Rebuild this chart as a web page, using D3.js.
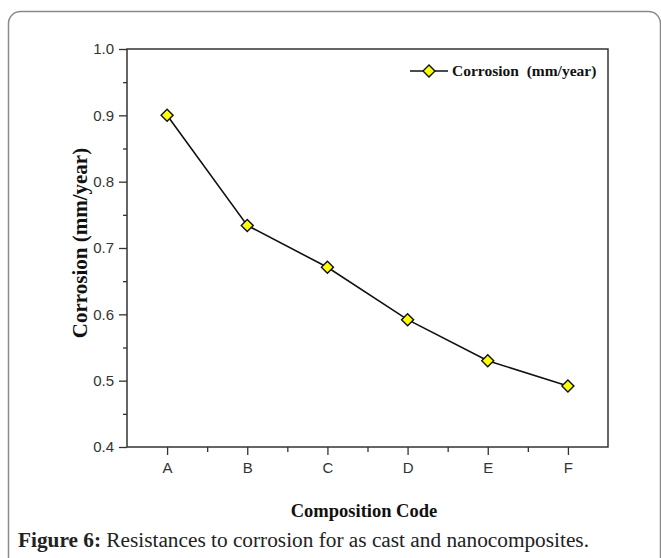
<!DOCTYPE html>
<html><head><meta charset="utf-8">
<script src="https://cdn.jsdelivr.net/npm/d3@7"></script>
<style>html,body{margin:0;padding:0;background:#fff;}svg{display:block;}</style>
</head><body>
<script>
const categories = ["A","B","C","D","E","F"];
const corrosion = [0.900, 0.734, 0.671, 0.592, 0.530, 0.492];
const yTicks = [0.4,0.5,0.6,0.7,0.8,0.9,1.0];
const yMinor = [0.45,0.55,0.65,0.75,0.85,0.95];
const seriesName = "Corrosion  (mm/year)";
const xTitle = "Composition Code";
const yTitle = "Corrosion (mm/year)";
const captionBold = "Figure 6:";
const captionText = " Resistances to corrosion for as cast and nanocomposites.";

const W=661,H=558;
const svg=d3.select("body").append("svg").attr("width",W).attr("height",H);
svg.append("rect").attr("x",8.5).attr("y",11.5).attr("width",652).attr("height",600)
  .attr("rx",12).attr("fill","none").attr("stroke","#8a8a8a").attr("stroke-width",1.5);

const L=127,R=608,T=49,B=447;
const x=d3.scaleLinear().domain([-0.5,5.5]).range([L,R]);
const y=d3.scaleLinear().domain([0.4,1.0]).range([B,T]);
const g=svg.append("g");
g.append("rect").attr("x",L).attr("y",T).attr("width",R-L).attr("height",B-T)
  .attr("fill","none").attr("stroke","#333").attr("stroke-width",1.5);
const tickFont="Liberation Sans, Arial, sans-serif";
const yAx=g.append("g").attr("transform",`translate(${L},0)`)
  .call(d3.axisLeft(y).tickValues(yTicks).tickFormat(d3.format(".1f")).tickSize(8).tickPadding(5));
yAx.select(".domain").remove();
yAx.selectAll("line").attr("stroke","#333").attr("stroke-width",1.3);
yAx.selectAll("text").style("font-family",tickFont).style("font-size","15px").attr("fill","#333");
const yAxm=g.append("g").attr("transform",`translate(${L},0)`)
  .call(d3.axisLeft(y).tickValues(yMinor).tickFormat("").tickSize(4));
yAxm.select(".domain").remove();
yAxm.selectAll("line").attr("stroke","#333").attr("stroke-width",1.3);
const xAx=g.append("g").attr("transform",`translate(0,${B})`)
  .call(d3.axisBottom(x).tickValues(d3.range(categories.length)).tickFormat(i=>categories[i]).tickSize(8).tickPadding(7));
xAx.select(".domain").remove();
xAx.selectAll("line").attr("stroke","#333").attr("stroke-width",1.3);
xAx.selectAll("text").style("font-family",tickFont).style("font-size","15px").attr("fill","#333");
const xAxm=g.append("g").attr("transform",`translate(0,${B})`)
  .call(d3.axisBottom(x).tickValues(d3.range(categories.length-1).map(i=>i+0.5)).tickFormat("").tickSize(5));
xAxm.select(".domain").remove();
xAxm.selectAll("line").attr("stroke","#333").attr("stroke-width",1.3);

const line=d3.line().x((d,i)=>x(i)).y(d=>y(d));
g.append("path").datum(corrosion).attr("d",line).attr("fill","none").attr("stroke","#111").attr("stroke-width",1.6);
const diamond=d3.symbol().type(d3.symbolSquare).size(72);
g.selectAll(".pt").data(corrosion).enter().append("path")
  .attr("d",diamond).attr("transform",(d,i)=>`translate(${x(i)},${y(d)}) rotate(45)`)
  .attr("fill","#ffff00").attr("stroke","#111").attr("stroke-width",1.4);

const lg=g.append("g").attr("transform",`translate(410,71)`);
lg.append("line").attr("x1",0).attr("x2",38).attr("y1",0).attr("y2",0).attr("stroke","#111").attr("stroke-width",1.6);
lg.append("path").attr("d",diamond).attr("transform","translate(19,0) rotate(45)")
  .attr("fill","#ffff00").attr("stroke","#111").attr("stroke-width",1.4);
lg.append("text").attr("x",42).attr("y",5).text(seriesName).attr("xml:space","preserve").style("white-space","pre")
  .attr("font-family","Liberation Serif, Times New Roman, serif").attr("font-weight","bold").attr("font-size",15.5).attr("fill","#111");

svg.append("text").attr("x",364).attr("y",517).attr("text-anchor","middle").text(xTitle)
  .attr("font-family","Liberation Serif, Times New Roman, serif").attr("font-weight","bold").attr("font-size",18.5).attr("fill","#111");
svg.append("text").attr("transform",`translate(87,243) rotate(-90)`).attr("text-anchor","middle").text(yTitle)
  .attr("font-family","Liberation Serif, Times New Roman, serif").attr("font-weight","bold").attr("font-size",21).attr("fill","#111");

const cap=svg.append("text").attr("x",18).attr("y",547)
  .attr("font-family","Liberation Serif, Times New Roman, serif").attr("font-size",21.3).attr("fill","#222");
cap.append("tspan").attr("font-weight","bold").text(captionBold);
cap.append("tspan").text(captionText);
</script>
</body></html>
